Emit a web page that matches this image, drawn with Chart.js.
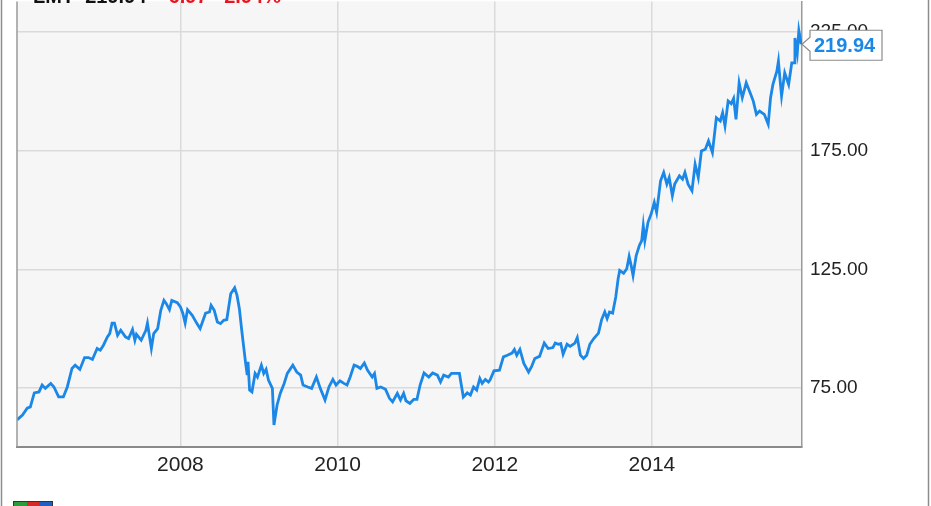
<!DOCTYPE html>
<html>
<head>
<meta charset="utf-8">
<script src="https://cdn.jsdelivr.net/npm/chart.js@4"></script>
<style>
  html, body { margin: 0; padding: 0; background: #fff; overflow: hidden; }
  #wrap { position: relative; width: 931px; height: 506px; overflow: hidden; }
  #lmt { position: absolute; left: 0; top: -18px; }
  #head { position: absolute; left: 33px; top: -14px; font: bold 20px "Liberation Sans", Arial, sans-serif; line-height: 20px; white-space: pre; color: #111; z-index: 2; }
  #head span { color: #e8141e; }
  #logo { position: absolute; left: 13px; top: 501px; width: 38px; height: 8px; border: 1px solid #333; background: linear-gradient(90deg, #2a9d3a 0 33%, #d62828 33% 66%, #1f5fbf 66%); }
</style>
</head>
<body>
<div id="wrap">
  <canvas id="lmt" width="931" height="524"></canvas>
  <div id="head">LMT  219.94    <span>6.97   2.94%</span></div>
  <div id="logo"></div>
</div>
<script>
(() => {
  // weekly-ish closes (decimal year, price)
  const years = [
    2005.92, 2005.99, 2006.05, 2006.09, 2006.14, 2006.20, 2006.24, 2006.28, 2006.35, 2006.39,
    2006.45, 2006.51, 2006.56, 2006.62, 2006.66, 2006.72, 2006.78, 2006.83, 2006.88, 2006.94,
    2006.98, 2007.02, 2007.07, 2007.10, 2007.13, 2007.16, 2007.20, 2007.24, 2007.30, 2007.34,
    2007.39, 2007.42, 2007.44, 2007.50, 2007.56, 2007.58, 2007.63, 2007.66, 2007.71, 2007.75,
    2007.79, 2007.82, 2007.86, 2007.89, 2007.96, 2008.00, 2008.03, 2008.06, 2008.09, 2008.15,
    2008.21, 2008.25, 2008.32, 2008.37, 2008.39, 2008.43, 2008.47, 2008.51, 2008.55, 2008.59,
    2008.64, 2008.69, 2008.72, 2008.75, 2008.78, 2008.80, 2008.83, 2008.85, 2008.86, 2008.88,
    2008.91, 2008.95, 2008.98, 2009.03, 2009.06, 2009.09, 2009.12, 2009.17, 2009.19, 2009.23,
    2009.27, 2009.32, 2009.36, 2009.43, 2009.48, 2009.53, 2009.56, 2009.62, 2009.67, 2009.73,
    2009.78, 2009.84, 2009.89, 2009.94, 2009.98, 2010.03, 2010.08, 2010.12, 2010.16, 2010.21,
    2010.25, 2010.29, 2010.34, 2010.38, 2010.44, 2010.47, 2010.50, 2010.55, 2010.61, 2010.66,
    2010.70, 2010.76, 2010.80, 2010.84, 2010.87, 2010.92, 2010.97, 2011.01, 2011.05, 2011.10,
    2011.16, 2011.21, 2011.27, 2011.31, 2011.35, 2011.41, 2011.45, 2011.52, 2011.55, 2011.60,
    2011.65, 2011.69, 2011.73, 2011.77, 2011.81, 2011.84, 2011.88, 2011.92, 2011.94, 2011.99,
    2012.06, 2012.11, 2012.16, 2012.22, 2012.25, 2012.28, 2012.32, 2012.37, 2012.43, 2012.47,
    2012.51, 2012.57, 2012.63, 2012.68, 2012.74, 2012.77, 2012.81, 2012.84, 2012.87, 2012.92,
    2012.96, 2013.02, 2013.05, 2013.09, 2013.13, 2013.17, 2013.21, 2013.26, 2013.32, 2013.36,
    2013.40, 2013.43, 2013.46, 2013.50, 2013.54, 2013.57, 2013.59, 2013.64, 2013.68, 2013.71,
    2013.74, 2013.76, 2013.80, 2013.84, 2013.87, 2013.89, 2013.91, 2013.95, 2013.99, 2014.03,
    2014.06, 2014.11, 2014.15, 2014.19, 2014.22, 2014.26, 2014.29, 2014.35, 2014.39, 2014.42,
    2014.46, 2014.51, 2014.55, 2014.59, 2014.63, 2014.68, 2014.72, 2014.77, 2014.82, 2014.87,
    2014.90, 2014.93, 2014.97, 2015.01, 2015.04, 2015.07, 2015.11, 2015.15, 2015.20, 2015.25,
    2015.29, 2015.33, 2015.37, 2015.43, 2015.48, 2015.51, 2015.54, 2015.59, 2015.61, 2015.63,
    2015.65, 2015.69, 2015.74, 2015.78, 2015.81, 2015.82, 2015.85, 2015.87, 2015.90
  ];
  const prices = [
    61.6, 63.7, 66.6, 67.1, 73.0, 73.4, 76.3, 74.9, 77.0, 75.5,
    71.3, 71.3, 75.5, 83.3, 84.7, 82.9, 87.9, 87.9, 87.1, 91.7,
    91.0, 93.1, 96.6, 98.0, 102.4, 102.4, 97.3, 99.4, 96.6, 95.9,
    99.7, 95.2, 97.7, 95.2, 99.4, 102.4, 91.7, 98.0, 100.1, 107.8,
    112.0, 110.6, 108.1, 112.0, 111.0, 109.2, 106.6, 102.4, 108.1, 105.7,
    102.2, 100.1, 106.6, 107.1, 109.9, 107.8, 102.9, 102.2, 103.6, 103.9,
    114.8, 117.3, 114.1, 108.5, 99.4, 93.8, 85.4, 80.5, 86.1, 74.2,
    73.4, 81.2, 79.7, 84.7, 81.2, 82.9, 78.4, 74.9, 59.5, 67.9,
    72.8, 77.0, 81.2, 84.7, 81.8, 80.5, 76.3, 75.5, 74.9, 79.7,
    74.9, 70.0, 75.5, 78.7, 76.3, 78.1, 77.0, 76.3, 79.7, 84.7,
    84.2, 83.3, 85.6, 82.6, 79.7, 81.2, 74.9, 75.5, 74.5, 70.7,
    69.2, 72.8, 70.0, 72.8, 69.7, 68.6, 70.3, 70.3, 76.3, 81.4,
    79.7, 81.4, 80.5, 77.6, 80.5, 79.7, 81.2, 81.2, 81.2, 71.3,
    73.0, 72.1, 75.5, 74.2, 79.1, 77.0, 78.7, 77.6, 78.4, 82.3,
    82.6, 88.2, 88.9, 89.8, 91.3, 88.9, 91.3, 85.4, 81.8, 84.2,
    87.5, 88.4, 94.0, 91.7, 92.1, 94.0, 93.5, 93.8, 89.3, 93.5,
    92.6, 94.0, 96.3, 88.9, 87.5, 88.9, 93.5, 95.9, 98.2, 103.9,
    107.1, 104.3, 107.1, 106.6, 113.4, 121.1, 124.6, 123.4, 125.3, 130.5,
    126.0, 122.5, 130.9, 135.1, 137.2, 143.5, 137.2, 144.9, 148.4, 153.3,
    149.1, 162.4, 165.9, 161.0, 163.8, 156.1, 161.0, 164.5, 163.1, 165.9,
    161.0, 158.2, 169.4, 163.8, 175.0, 175.7, 179.2, 174.3, 189.0, 187.6,
    191.1, 185.5, 196.0, 194.9, 197.1, 188.3, 203.7, 197.4, 203.7, 199.5,
    196.0, 190.4, 191.8, 190.4, 186.2, 197.4, 203.0, 208.6, 212.8, 205.1,
    198.1, 207.9, 203.0, 212.1, 212.1, 222.6, 216.3, 225.7, 219.94
  ];
  const xTicks = [2008, 2010, 2012, 2014];
  const yTicks = [75, 125, 175, 225];
  const lastPrice = '219.94';

  const lineColor = '#1b87e6';
  const points = years.map((y, i) => ({ x: y, y: prices[i] }));

  const frame = {
    id: 'frame',
    beforeDraw(chart) {
      const { ctx, chartArea: a } = chart;
      ctx.save();
      ctx.fillStyle = '#f6f6f6';
      ctx.fillRect(a.left, a.top, a.right - a.left, a.bottom - a.top);
      ctx.restore();
    },
    afterDraw(chart) {
      const { ctx, chartArea: a } = chart;
      ctx.save();
      // left edge of plot
      ctx.strokeStyle = '#9a9a9a';
      ctx.lineWidth = 1.5;
      ctx.beginPath();
      ctx.moveTo(a.left, a.top);
      ctx.lineTo(a.left, a.bottom);
      ctx.stroke();
      // outer frame
      ctx.strokeStyle = '#8c8c8c';
      ctx.lineWidth = 1.5;
      ctx.strokeRect(1.5, -10, 927, 600);

      // last value callout
      const meta = chart.getDatasetMeta(0);
      const p = meta.data[meta.data.length - 1];
      const tipX = a.right, tipY = p.y;
      const bx = tipX + 8, by = tipY - 14, bw = 72, bh = 30;
      ctx.beginPath();
      ctx.moveTo(tipX, tipY);
      ctx.lineTo(bx, tipY - 7);
      ctx.lineTo(bx, by);
      ctx.lineTo(bx + bw, by);
      ctx.lineTo(bx + bw, by + bh);
      ctx.lineTo(bx, by + bh);
      ctx.lineTo(bx, tipY + 7);
      ctx.closePath();
      ctx.fillStyle = '#fff';
      ctx.fill();
      ctx.strokeStyle = '#8a8a8a';
      ctx.lineWidth = 1.2;
      ctx.stroke();
      ctx.fillStyle = lineColor;
      ctx.font = 'bold 20px "Liberation Sans", Arial, sans-serif';
      ctx.textBaseline = 'middle';
      ctx.textAlign = 'left';
      ctx.fillText(lastPrice, bx + 4, by + bh / 2 + 1);
      ctx.restore();
    }
  };

  const canvas = document.getElementById('lmt');
  new Chart(canvas, {
    type: 'line',
    data: {
      datasets: [{
        data: points,
        borderColor: lineColor,
        borderWidth: 2.8,
        pointRadius: 0,
        tension: 0,
        fill: false
      }]
    },
    options: {
      responsive: false,
      animation: false,
      events: [],
      layout: { padding: { left: 17, top: 0, right: 0, bottom: 0 } },
      plugins: { legend: { display: false }, tooltip: { enabled: false } },
      scales: {
        x: {
          type: 'linear',
          min: 2005.92,
          max: 2015.91,
          afterBuildTicks: (s) => { s.ticks = xTicks.map((v) => ({ value: v })); },
          afterFit: (s) => { s.height = 59; },
          grid: { color: '#dadada', lineWidth: 1.5, drawTicks: false },
          border: { color: '#8a8a8a', width: 2 },
          ticks: {
            padding: 6,
            color: '#222',
            font: { family: '"Liberation Sans Narrow", "Arial Narrow", "Liberation Sans", sans-serif', size: 21 },
            callback: (v) => String(v),
            maxRotation: 0
          }
        },
        y: {
          position: 'right',
          min: 50.2,
          max: 238,
          afterBuildTicks: (s) => { s.ticks = yTicks.map((v) => ({ value: v })); },
          afterFit: (s) => { s.width = 129; },
          grid: { color: '#dadada', lineWidth: 1.5, drawTicks: false },
          border: { color: '#9a9a9a', width: 1.5 },
          ticks: {
            padding: 8,
            color: '#222',
            font: { family: '"Liberation Sans", Arial, sans-serif', size: 19 },
            callback: (v) => Number(v).toFixed(2)
          }
        }
      }
    },
    plugins: [frame]
  });
})();
</script>
</body>
</html>
